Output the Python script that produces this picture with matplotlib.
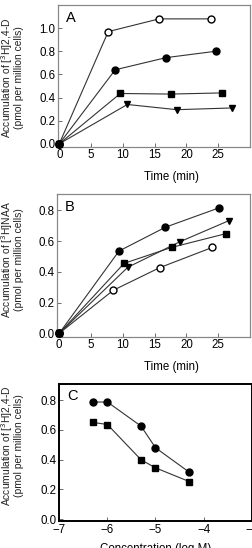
import numpy as np
import matplotlib
matplotlib.use("Agg")
import matplotlib.pyplot as plt

plt.rcParams['font.family'] = ['Liberation Sans', 'DejaVu Sans']

# panel A: [3H]2,4-D uptake over time
a_open_t = [0, 7.7, 15.7, 23.8]
a_open_v = [0, 0.97, 1.08, 1.08]
a_circ_t = [0, 8.8, 16.8, 24.6]
a_circ_v = [0, 0.64, 0.745, 0.80]
a_sq_t = [0, 9.6, 17.5, 25.6]
a_sq_v = [0, 0.435, 0.43, 0.44]
a_tri_t = [0, 10.7, 18.5, 27.2]
a_tri_v = [0, 0.34, 0.295, 0.31]

# panel B: [3H]NAA uptake over time
b_circ_t = [0, 9.4, 16.7, 25.2]
b_circ_v = [0, 0.535, 0.69, 0.817]
b_tri_t = [0, 10.8, 19.0, 26.7]
b_tri_v = [0, 0.43, 0.596, 0.733]
b_sq_t = [0, 10.2, 17.7, 26.2]
b_sq_v = [0, 0.455, 0.559, 0.648]
b_open_t = [0, 8.5, 15.8, 24.1]
b_open_v = [0, 0.28, 0.427, 0.559]

# panel C: accumulation vs concentration
c_x = [-6.3, -6.0, -5.3, -5.0, -4.3]
c_circ = [0.787, 0.787, 0.625, 0.48, 0.316]
c_sq = [0.65, 0.636, 0.399, 0.345, 0.253]

W, H = 253, 548
fig = plt.figure(figsize=(W / 100, H / 100), dpi=100)


def box(l, t, r, b):
    return [l / W, 1 - b / H, (r - l) / W, (b - t) / H]


def style(ax, edge, lw):
    for s in ax.spines.values():
        s.set_color(edge)
        s.set_linewidth(lw)
    ax.tick_params(direction='in', labelsize=8.3, length=3, width=0.6,
                   color='#555555', pad=2)
    ax.yaxis.set_major_formatter(matplotlib.ticker.FormatStrFormatter('%.1f'))


def ylab(txt, yc):
    fig.text(11.5 / W, 1 - yc / H, txt, rotation=90, ha='center', va='center',
             fontsize=7.4, linespacing=0.8, color='#222222')


line_kw = dict(color='#333333', lw=0.8, markeredgecolor='black',
               clip_on=False, zorder=3)

# ---- A
axA = fig.add_axes(box(58, 5, 250, 146.7))
axA.plot(a_open_t, a_open_v, marker='o', ms=5, mfc='white', **line_kw)
axA.plot(a_circ_t, a_circ_v, marker='o', ms=5, mfc='black', **line_kw)
axA.plot(a_sq_t, a_sq_v, marker='s', ms=4.5, mfc='black', **line_kw)
axA.plot(a_tri_t, a_tri_v, marker='v', ms=5, mfc='black', **line_kw)
axA.plot([0], [0], marker='o', ms=5, color='black', clip_on=False, zorder=4)
axA.set_xlim(-0.2, 30)
axA.set_ylim(-0.025, 1.2)
axA.set_xticks([0, 5, 10, 15, 20, 25])
axA.set_yticks([0, 0.2, 0.4, 0.6, 0.8, 1.0])
style(axA, '#888888', 0.9)
axA.set_xlabel('Time (min)', fontsize=8.3)
axA.xaxis.set_label_coords(0.59, -0.17)
ylab('Accumulation of [$^{3}$H]2,4-D\n(pmol per million cells)', 78)
axA.text(0.04, 0.96, 'A', transform=axA.transAxes, fontsize=10.5,
         va='top', ha='left')

# ---- B
axB = fig.add_axes(box(57.3, 194, 250, 336.7))
axB.plot(b_circ_t, b_circ_v, marker='o', ms=5, mfc='black', **line_kw)
axB.plot(b_tri_t, b_tri_v, marker='v', ms=5, mfc='black', **line_kw)
axB.plot(b_sq_t, b_sq_v, marker='s', ms=4.5, mfc='black', **line_kw)
axB.plot(b_open_t, b_open_v, marker='o', ms=5, mfc='white', **line_kw)
axB.plot([0], [0], marker='o', ms=5, color='black', clip_on=False, zorder=4)
axB.set_xlim(-0.3, 30)
axB.set_ylim(-0.022, 0.906)
axB.set_xticks([0, 5, 10, 15, 20, 25])
axB.set_yticks([0, 0.2, 0.4, 0.6, 0.8])
style(axB, '#888888', 0.9)
axB.set_xlabel('Time (min)', fontsize=8.3)
axB.xaxis.set_label_coords(0.59, -0.17)
ylab('Accumulation of [$^{3}$H]NAA\n(pmol per million cells)', 260)
axB.text(0.04, 0.96, 'B', transform=axB.transAxes, fontsize=10.5,
         va='top', ha='left')

# ---- C
axC = fig.add_axes(box(59.3, 384, 251.7, 521))
axC.plot(c_x, c_circ, marker='o', ms=5, mfc='black', **line_kw)
axC.plot(c_x, c_sq, marker='s', ms=4.5, mfc='black', **line_kw)
axC.set_xlim(-7, -3)
axC.set_ylim(-0.012, 0.908)
axC.set_xticks([-7, -6, -5, -4, -3])
axC.set_yticks([0, 0.2, 0.4, 0.6, 0.8])
style(axC, 'black', 1.4)
axC.set_xlabel('Concentration (log M)', fontsize=8.3)
axC.xaxis.set_label_coords(0.5, -0.16)
ylab('Accumulation of [$^{3}$H]2,4-D\n(pmol per million cells)', 446)
axC.text(0.04, 0.96, 'C', transform=axC.transAxes, fontsize=10.5,
         va='top', ha='left')

fig.savefig('out.png', dpi=100)
